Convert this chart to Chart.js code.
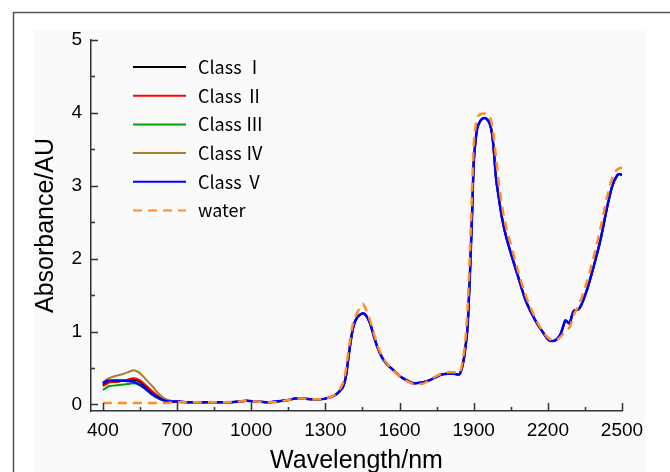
<!DOCTYPE html>
<html><head><meta charset="utf-8">
<script src="https://cdn.jsdelivr.net/npm/chart.js@4/dist/chart.umd.min.js"></script>
<style>html,body{margin:0;padding:0;background:#fff}</style>
</head><body>
<canvas id="c" width="670" height="472"></canvas>
<script>
// ---- data ----
const seriesNames = ['Class Ⅰ', 'Class Ⅱ', 'Class Ⅲ', 'Class Ⅳ', 'Class Ⅴ', 'water'];
const xTickValues = [400, 700, 1000, 1300, 1600, 1900, 2200, 2500];
const yTickValues = [0, 1, 2, 3, 4, 5];

// visible region (differs per class)
const wlVis = [400, 410, 425, 450, 475, 500, 525, 550, 575, 600, 625, 650, 675];
const classIVis   = [0.27, 0.29, 0.31, 0.31, 0.32, 0.33, 0.34, 0.31, 0.24, 0.16, 0.10, 0.06, 0.04];
const classIIVis  = [0.25, 0.27, 0.30, 0.31, 0.32, 0.34, 0.36, 0.33, 0.26, 0.18, 0.11, 0.06, 0.04];
const classIIIVis = [0.20, 0.22, 0.25, 0.26, 0.27, 0.28, 0.29, 0.26, 0.20, 0.13, 0.08, 0.05, 0.04];
const classIVVis  = [0.30, 0.33, 0.36, 0.39, 0.41, 0.44, 0.47, 0.43, 0.34, 0.25, 0.15, 0.08, 0.05];
const classVVis   = [0.29, 0.31, 0.33, 0.33, 0.33, 0.32, 0.31, 0.27, 0.21, 0.14, 0.09, 0.05, 0.04];
const waterVis    = [0.02, 0.02, 0.02, 0.02, 0.02, 0.02, 0.02, 0.02, 0.02, 0.02, 0.02, 0.02, 0.025];

// near-infrared region (classes overlap)
const wlNir = [700, 750, 800, 850, 900, 950, 980, 1020, 1060, 1100, 1150, 1180, 1210, 1250, 1280, 1300,
  1320, 1340, 1360, 1375, 1385, 1394, 1408, 1418, 1428, 1440, 1452, 1462, 1472, 1482, 1495, 1509,
  1530, 1550, 1575, 1600, 1630, 1660, 1690, 1720, 1750, 1770, 1800, 1820, 1840, 1850, 1860, 1868,
  1875, 1885, 1893, 1900, 1907, 1914, 1927, 1944, 1955, 1967, 1975, 1981, 1990, 2001, 2015, 2030,
  2050, 2080, 2110, 2150, 2180, 2211, 2230, 2252, 2262, 2271, 2280, 2288, 2296, 2304, 2325, 2358,
  2385, 2413, 2440, 2460, 2480, 2490, 2500];
const classesNir = [0.04, 0.03, 0.03, 0.03, 0.03, 0.04, 0.05, 0.04, 0.03, 0.04, 0.06, 0.08, 0.08, 0.07, 0.07, 0.08,
  0.10, 0.13, 0.19, 0.27, 0.42, 0.66, 0.98, 1.12, 1.19, 1.23, 1.25, 1.23, 1.18, 1.10, 0.95, 0.80,
  0.64, 0.55, 0.47, 0.39, 0.33, 0.29, 0.30, 0.33, 0.38, 0.41, 0.42, 0.42, 0.41, 0.47, 0.62, 0.82,
  1.05, 1.80, 2.55, 3.30, 3.60, 3.78, 3.89, 3.93, 3.91, 3.83, 3.70, 3.50, 3.12, 2.85, 2.55, 2.32,
  2.08, 1.75, 1.43, 1.15, 0.99, 0.87, 0.88, 0.97, 1.07, 1.15, 1.13, 1.11, 1.20, 1.28, 1.31, 1.57,
  1.89, 2.26, 2.71, 2.99, 3.14, 3.16, 3.15];
const waterNir = [0.03, 0.03, 0.03, 0.03, 0.03, 0.04, 0.05, 0.04, 0.03, 0.03, 0.06, 0.08, 0.08, 0.07, 0.07, 0.08,
  0.10, 0.14, 0.22, 0.33, 0.52, 0.75, 1.05, 1.18, 1.25, 1.33, 1.38, 1.32, 1.24, 1.14, 0.99, 0.83,
  0.66, 0.56, 0.47, 0.39, 0.32, 0.28, 0.28, 0.33, 0.39, 0.42, 0.44, 0.44, 0.43, 0.50, 0.70, 0.95,
  1.30, 2.10, 2.90, 3.55, 3.80, 3.92, 3.98, 3.99, 3.98, 3.93, 3.82, 3.68, 3.40, 3.05, 2.72, 2.45,
  2.20, 1.83, 1.50, 1.18, 1.00, 0.89, 0.88, 0.93, 0.97, 1.00, 1.03, 1.06, 1.13, 1.22, 1.36, 1.68,
  2.02, 2.42, 2.85, 3.10, 3.22, 3.24, 3.25];

const seriesColors = ['#000000', '#ff0000', '#00a000', '#a8802f', '#0000ff', '#ff8c26'];

// ---- build ----
const wavelengths = wlVis.concat(wlNir);
const seriesValues = [
  classIVis.concat(classesNir),
  classIIVis.concat(classesNir),
  classIIIVis.concat(classesNir),
  classIVVis.concat(classesNir),
  classVVis.concat(classesNir),
  waterVis.concat(waterNir)
];
const drawOrder = [5, 4, 3, 2, 1, 0];
const datasets = seriesNames.map((name, i) => ({
  label: name,
  data: wavelengths.map((w, k) => ({x: w, y: seriesValues[i][k]})),
  borderColor: seriesColors[i],
  backgroundColor: seriesColors[i],
  borderWidth: i >= 4 ? 2.5 : 2,
  borderDash: i === 5 ? [9, 6] : [],
  pointRadius: 0,
  cubicInterpolationMode: 'monotone',
  fill: false,
  order: drawOrder[i]
}));

function midpoints(arr) {
  const out = [];
  for (let i = 0; i < arr.length - 1; i++) out.push((arr[i] + arr[i + 1]) / 2);
  return out;
}

const decorPlugin = {
  id: 'decor',
  beforeDraw(chart) {
    const ctx = chart.ctx;
    ctx.save();
    ctx.fillStyle = '#ffffff';
    ctx.fillRect(0, 0, chart.width, chart.height);
    ctx.fillStyle = '#fafafa';
    ctx.fillRect(33, 30, 612, 442);
    ctx.strokeStyle = '#555';
    ctx.lineWidth = 1.5;
    ctx.strokeRect(13.5, 12.5, 720, 520);
    ctx.restore();
  },
  afterDraw(chart) {
    const ctx = chart.ctx;
    const xs = chart.scales.x, ys = chart.scales.y;
    const area = chart.chartArea;
    ctx.save();
    ctx.strokeStyle = '#333';
    ctx.lineWidth = 1.5;
    ctx.beginPath();
    yTickValues.forEach(v => { const p = Math.round(ys.getPixelForValue(v)) + 0.5; ctx.moveTo(area.left, p); ctx.lineTo(area.left + 7, p); });
    midpoints(yTickValues).forEach(v => { const p = Math.round(ys.getPixelForValue(v)) + 0.5; ctx.moveTo(area.left, p); ctx.lineTo(area.left + 4, p); });
    xTickValues.forEach(v => { const p = Math.round(xs.getPixelForValue(v)) + 0.5; ctx.moveTo(p, area.bottom); ctx.lineTo(p, area.bottom - 8); });
    midpoints(xTickValues).forEach(v => { const p = Math.round(xs.getPixelForValue(v)) + 0.5; ctx.moveTo(p, area.bottom); ctx.lineTo(p, area.bottom - 4); });
    ctx.stroke();

    // legend
    const lx0 = 133, lx1 = 186, ly0 = 67, step = 28.7;
    chart.data.datasets.forEach((ds, i) => {
      const y = ly0 + i * step;
      ctx.beginPath();
      ctx.strokeStyle = ds.borderColor;
      ctx.lineWidth = 2;
      ctx.setLineDash(ds.borderDash || []);
      ctx.moveTo(lx0, y); ctx.lineTo(lx1, y);
      ctx.stroke();
      ctx.setLineDash([]);
      ctx.fillStyle = '#000';
      ctx.font = '18px "Noto Sans CJK SC", "Noto Sans", sans-serif';
      ctx.textBaseline = 'middle';
      ctx.textAlign = 'left';
      ctx.fillText(ds.label, 198, y);
    });
    ctx.restore();
  }
};

const tickFont = {family: '"Liberation Sans", Arial, sans-serif', size: 19};

new Chart(document.getElementById('c'), {
  type: 'line',
  data: {datasets},
  options: {
    responsive: false,
    animation: false,
    devicePixelRatio: 1,
    layout: {padding: {left: 0, top: 40, right: 48, bottom: 0}},
    plugins: {legend: {display: false}, tooltip: {enabled: false}},
    scales: {
      x: {
        type: 'linear', min: 352, max: 2500,
        afterBuildTicks: s => { s.ticks = xTickValues.map(v => ({value: v})); },
        afterFit: s => { s.height = 61; },
        grid: {display: true, drawOnChartArea: false, drawTicks: false},
        border: {display: true, color: '#333', width: 1.5},
        ticks: {autoSkip: false, maxRotation: 0, padding: 8, color: '#000', font: tickFont,
          callback: v => String(v)},
        title: {display: true, text: 'Wavelength/nm', color: '#000',
          font: {family: '"Liberation Sans", Arial, sans-serif', size: 25, lineHeight: 0.8},
          padding: {top: 0, bottom: 1}}
      },
      y: {
        type: 'linear', min: -0.09, max: 5,
        afterBuildTicks: s => { s.ticks = yTickValues.map(v => ({value: v})); },
        afterFit: s => { s.width = 91; },
        grid: {display: true, drawOnChartArea: false, drawTicks: false},
        border: {display: true, color: '#333', width: 1.5},
        ticks: {autoSkip: false, padding: 9, color: '#000', font: tickFont,
          callback: v => String(v)},
        title: {display: true, text: 'Absorbance/AU', color: '#000',
          font: {family: '"Liberation Sans", Arial, sans-serif', size: 25},
          padding: {top: 31, bottom: 0}}
      }
    }
  },
  plugins: [decorPlugin]
});
</script>
</body></html>
